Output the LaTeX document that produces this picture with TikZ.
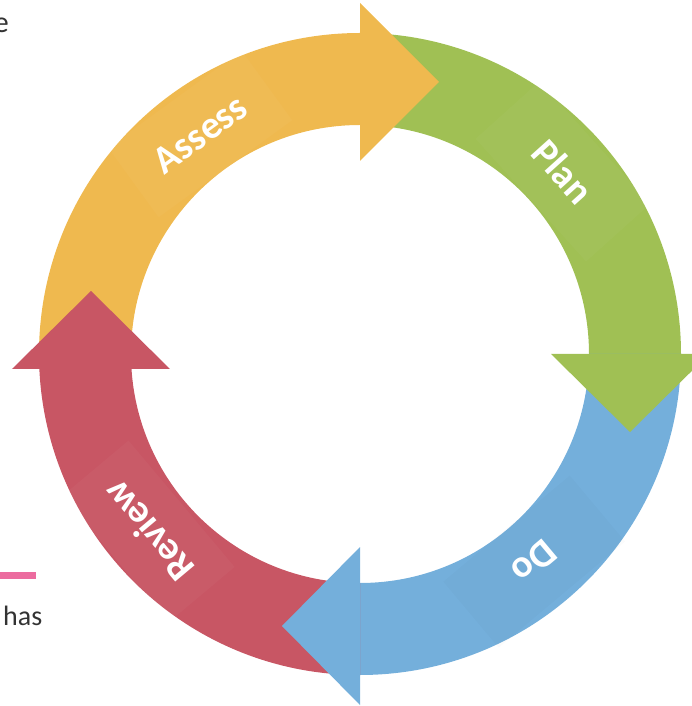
\documentclass[tikz,border=0pt]{standalone}
\usepackage{fontspec}
\setmainfont{Carlito}
\definecolor{cOrange}{HTML}{EFB94F}
\definecolor{cGreen}{HTML}{A0C054}
\definecolor{cBlue}{HTML}{74AFDB}
\definecolor{cRed}{HTML}{C85664}
\definecolor{cPink}{HTML}{EC6B9F}
\definecolor{cText}{HTML}{333333}
\begin{document}
\begin{tikzpicture}[x=1pt,y=1pt,
  lbl/.style={text=white, font=\fontsize{39}{42}\selectfont\bfseries,
    minimum width=165pt, minimum height=86pt, inner sep=0pt,
    fill=white, fill opacity=0.03, text opacity=1},
  lbldark/.style={lbl, fill=black, fill opacity=0.015},
  stray/.style={text=cText, inner sep=0pt}]
\useasboundingbox (-360,-352) rectangle (332,354);
\clip (-360,-352) rectangle (332,354);
\def\ro{321}
\def\ri{229}
% bands
\fill[cOrange] (180:\ro) arc[start angle=180,end angle=90,radius=\ro] -- (90:\ri) arc[start angle=90,end angle=180,radius=\ri] -- cycle;
\fill[cGreen] (90:\ro) arc[start angle=90,end angle=0,radius=\ro] -- (0:\ri) arc[start angle=0,end angle=90,radius=\ri] -- cycle;
\fill[cBlue] (0:\ro) arc[start angle=0,end angle=-90,radius=\ro] -- (-90:\ri) arc[start angle=-90,end angle=0,radius=\ri] -- cycle;
\fill[cRed] (-90:\ro) arc[start angle=-90,end angle=-178,radius=\ro] -- (-178:\ri) arc[start angle=-178,end angle=-90,radius=\ri] -- cycle;
% heads
\fill[cOrange] (0,351) -- (79,272) -- (0,193) -- cycle;
\fill[cGreen] (191,0) -- (349,0) -- (270,-78) -- cycle;
\fill[cBlue] (0,-193) -- (0,-351) -- (-78,-272) -- cycle;
\fill[cRed] (-348,-15) -- (-190,-15) -- (-269,63) -- cycle;
% labels
\node[lbl, rotate=36] (assess) at (126:272) {Assess};
\node[lbl, rotate=-48] (plan) at (42:273) {Plan};
\node[lbldark, rotate=-140] (do) at (-50:271) {Do};
\node[lbl, rotate=130] (review) at (-140:276) {Review};
% stray page content
\node[stray, anchor=base east, font=\fontsize{30}{32}\selectfont] (etxt) at (-351,321) {e};
\node[stray, anchor=base west, font=\fontsize{28}{30}\selectfont] (has) at (-357,-271) {has};
\fill[cPink] (-360,-218) rectangle (-324,-225);
\end{tikzpicture}
\end{document}
